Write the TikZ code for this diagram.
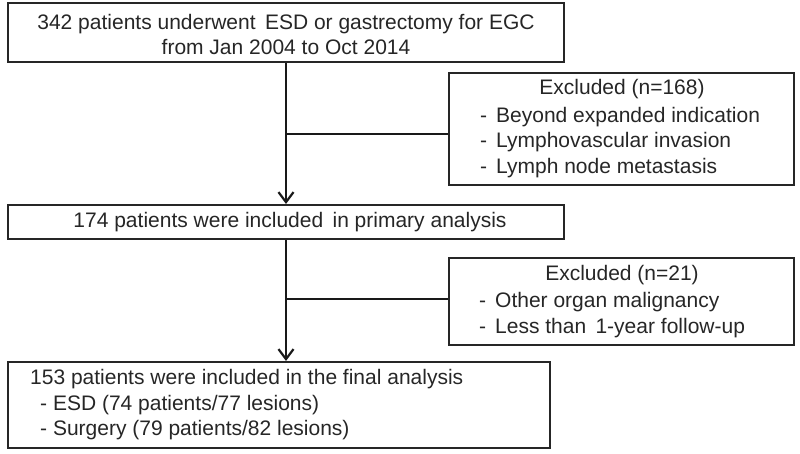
\documentclass[tikz,border=0pt]{standalone}
\usepackage{fontspec}
\setmainfont{Liberation Sans}
\usetikzlibrary{arrows.meta}
\begin{document}
\begin{tikzpicture}[x=1pt,y=-1pt,
  box/.style={draw=black!85, line width=2.1pt, rectangle, inner sep=0pt},
  txt/.style={inner sep=0pt, font=\fontsize{21}{25.5}\selectfont, text=black!85},
  conn/.style={draw=black!90, line width=2.4pt},
  arr/.style={conn, -{Straight Barb[length=10pt,width=15pt,line width=2.2pt]}}
]
\useasboundingbox (0,0) rectangle (800,454);
% boxes
\node[box, minimum width=556pt, minimum height=59pt] (b1) at (286,32.5) {};
\node[box, minimum width=556pt, minimum height=34pt] (b2) at (286,222) {};
\node[box, minimum width=542pt, minimum height=86pt] (b3) at (279,405) {};
\node[box, minimum width=345pt, minimum height=112pt] (e1) at (621.5,129) {};
\node[box, minimum width=345pt, minimum height=87pt] (e2) at (621.5,301.5) {};
% texts
\node[txt, align=center] (t1) at (286,34.5) {342 patients underwent\, ESD or gastrectomy for EGC\\from Jan 2004 to Oct 2014};
\node[txt] (t2) at (290,222) {174 patients were included\, in primary analysis};
\node[txt, anchor=west, align=left] (t3) at (30,405) {153 patients were included in the final analysis\\\hspace{10pt}- ESD (74 patients/77 lesions)\\\hspace{10pt}- Surgery (79 patients/82 lesions)};
\node[txt] (e1t) at (622,89) {Excluded (n=168)};
\node[txt, anchor=west, align=left] (e1l) at (480,142.5) {-\hspace{9pt}Beyond expanded indication\\-\hspace{9pt}Lymphovascular invasion\\-\hspace{9pt}Lymph node metastasis};
\node[txt] (e2t) at (622,275) {Excluded (n=21)};
\node[txt, anchor=west, align=left] (e2l) at (479,315) {-\hspace{9pt}Other organ malignancy\\-\hspace{9pt}Less than\, 1-year follow-up};
% connectors
\coordinate (j1) at (286,134);
\coordinate (j2) at (286,299);
\draw[arr] (b1.south) -- (b2.north);
\draw[arr] (b2.south) -- (b3.north -| b2.south);
\draw[conn] (j1) -- (j1 -| e1.west);
\draw[conn] (j2) -- (j2 -| e2.west);
\end{tikzpicture}
\end{document}
